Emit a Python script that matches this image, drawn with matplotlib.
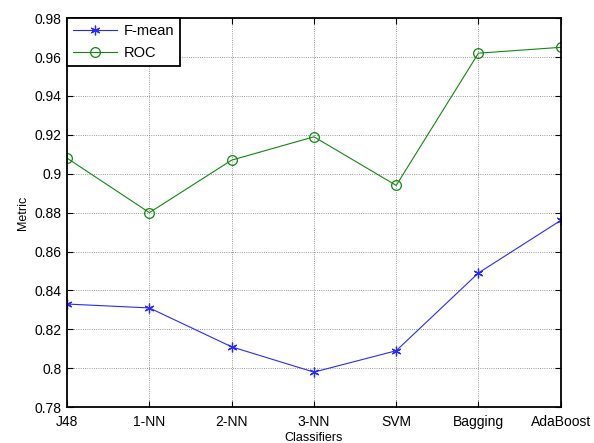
import matplotlib
matplotlib.use("Agg")
import matplotlib.pyplot as plt

plt.rcParams["font.family"] = ["Liberation Sans", "DejaVu Sans"]
plt.rcParams["font.size"] = 10

classifiers = ["J48", "1-NN", "2-NN", "3-NN", "SVM", "Bagging", "AdaBoost"]
f_mean = [0.833, 0.831, 0.811, 0.798, 0.809, 0.849, 0.876]
roc = [0.908, 0.880, 0.907, 0.919, 0.894, 0.962, 0.965]
yticks = [0.78, 0.80, 0.82, 0.84, 0.86, 0.88, 0.90, 0.92, 0.94, 0.96, 0.98]
ytick_labels = ["0.78", "0.8", "0.82", "0.84", "0.86", "0.88", "0.9", "0.92", "0.94", "0.96", "0.98"]

fig = plt.figure(figsize=(5.94, 4.43), dpi=100)
ax = fig.add_axes([0.113, 0.081, 0.831, 0.878])

x = list(range(len(classifiers)))
ax.plot(x, f_mean, color="#2a2aff", marker=(6, 2, 0), markersize=7, linewidth=0.8,
        markeredgewidth=0.9, label="F-mean")
ax.plot(x, roc, color="#118811", marker="o", markersize=7, linewidth=0.8,
        markerfacecolor="none", markeredgewidth=0.9, label="ROC")

ax.set_xlim(0, len(classifiers) - 1)
ax.set_ylim(0.78, 0.98)
ax.set_xticks(x)
ax.set_xticklabels(classifiers)
ax.set_yticks(yticks)
ax.set_yticklabels(ytick_labels)
ax.tick_params(direction="in", length=4, width=0.8, top=True, right=True)
ax.tick_params(axis="x", pad=6)
ax.tick_params(axis="y", pad=4)
ax.grid(True, color="#777777", linestyle=":", linewidth=0.6)
for s in ax.spines.values():
    s.set_linewidth(1.3)

ax.set_xlabel("Classifiers", fontsize=9, labelpad=2)
ax.set_ylabel("Metric", fontsize=9, labelpad=4)

leg = ax.legend(loc="upper left", borderaxespad=0, fancybox=False, framealpha=1,
                edgecolor="black", fontsize=10.5, handlelength=3.0, handletextpad=0.5,
                borderpad=0.4, labelspacing=0.55)
leg.get_frame().set_linewidth(1.3)

fig.savefig("out.png", dpi=100)
